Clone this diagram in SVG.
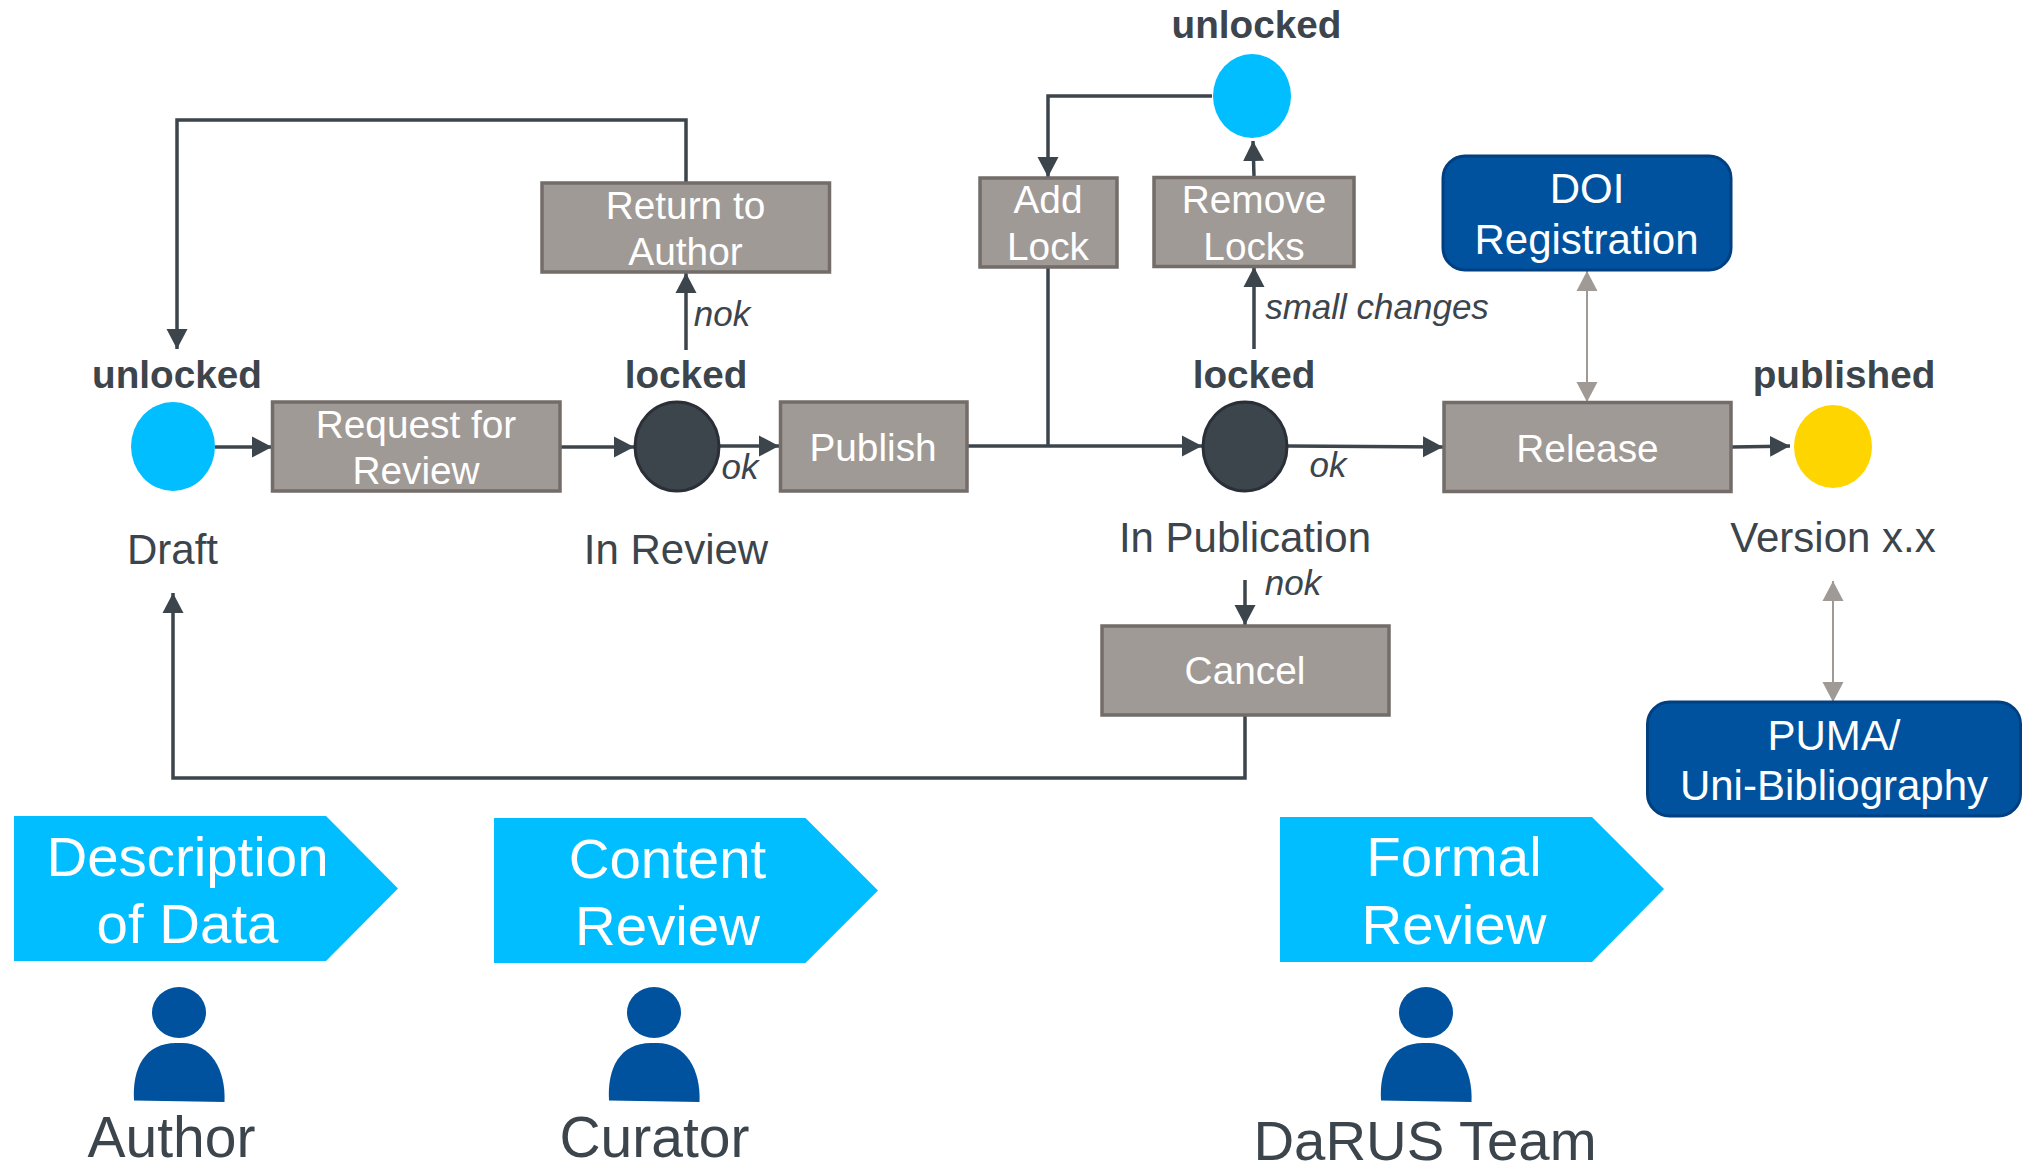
<svg xmlns="http://www.w3.org/2000/svg" width="2028" height="1164" viewBox="0 0 2028 1164">
<style>
text{font-family:"Liberation Sans",Arial,sans-serif;text-anchor:middle}
.box{fill:#9f9a96;stroke:#736c69;stroke-width:3.5}
.ext{fill:#00529e;stroke:#003f80;stroke-width:3}
.pent{fill:#00beff}
.w{fill:#fff;font-size:38.8px}
.wb{fill:#fff;font-size:42px}
.wl{fill:#fff;font-size:56.4px}
.st{fill:#3c444c;font-size:38.7px;font-weight:700}
.lb{fill:#3c444c;font-size:42px}
.it{fill:#3c444c;font-size:35px;font-style:italic}
.who{fill:#3c444c;font-size:57px}
.c{fill:none;stroke:#3c444c;stroke-width:3.5}
.g{fill:none;stroke:#a09a96;stroke-width:2}
.p{fill:#00529e}
</style>
<defs>
<marker id="a" markerUnits="userSpaceOnUse" markerWidth="21" markerHeight="22" refX="20" refY="11" orient="auto"><path d="M0 0.5L20 11L0 21.5Z" fill="#3c444c"/></marker>
<marker id="g" markerUnits="userSpaceOnUse" markerWidth="21" markerHeight="22" refX="20" refY="11" orient="auto-start-reverse"><path d="M0 0.5L20 11L0 21.5Z" fill="#a09a96"/></marker>
<path id="body" d="M-45 1100.5C-47 1068-34 1043-3 1043L3 1043C32 1043 47 1070 45.500 1102Z"/>
</defs>
<g id="connectors">
<path class="c" marker-end="url(#a)" d="M686 182V120H177V349"/>
<path class="c" marker-end="url(#a)" d="M686 350V273"/>
<path class="c" marker-end="url(#a)" d="M215 447H272"/>
<path class="c" marker-end="url(#a)" d="M561 447H634"/>
<path class="c" marker-end="url(#a)" d="M720 446H779"/>
<path class="c" marker-end="url(#a)" d="M967 446H1202"/>
<path class="c" d="M1048 267V446"/>
<path class="c" marker-end="url(#a)" d="M1212 96H1048V177"/>
<path class="c" marker-end="url(#a)" d="M1254 177L1253 141"/>
<path class="c" marker-end="url(#a)" d="M1254 349V267"/>
<path class="c" marker-end="url(#a)" d="M1288 446L1443 447"/>
<path class="c" marker-end="url(#a)" d="M1732 447L1790 446"/>
<path class="c" marker-end="url(#a)" d="M1245 580V625"/>
<path class="c" marker-end="url(#a)" d="M1245 716V778H173V593"/>
<path class="g" marker-start="url(#g)" marker-end="url(#g)" d="M1587 271V402"/>
<path class="g" marker-start="url(#g)" marker-end="url(#g)" d="M1833 581V702"/>
</g>
<g id="state-draft"><text class="st" x="177" y="388">unlocked</text><ellipse cx="173" cy="446.500" rx="42" ry="44.500" fill="#00beff"/><text class="lb" x="172.500" y="564">Draft</text></g>
<g id="request"><rect class="box" x="272.500" y="402" width="287.500" height="89"/><text class="w" x="416" y="438">Request for</text><text class="w" x="416" y="484">Review</text></g>
<g id="state-review"><text class="st" x="686" y="388">locked</text><ellipse cx="677" cy="446.500" rx="42" ry="44.500" fill="#3c444c" stroke="#2a2f38" stroke-width="3"/><text class="lb" x="676" y="564">In Review</text></g>
<g id="return"><rect class="box" x="542" y="183" width="287.500" height="89"/><text class="w" x="685.500" y="219">Return to</text><text class="w" x="685.500" y="265">Author</text></g>
<g id="publish"><rect class="box" x="780.500" y="402" width="186.500" height="89"/><text class="w" x="873" y="461">Publish</text></g>
<g id="add-lock"><rect class="box" x="980" y="178" width="137" height="89"/><text class="w" x="1048" y="213">Add</text><text class="w" x="1048" y="260">Lock</text></g>
<g id="remove-locks"><rect class="box" x="1154" y="177.500" width="200" height="89"/><text class="w" x="1254" y="213">Remove</text><text class="w" x="1254" y="260">Locks</text></g>
<g id="state-unlocked"><text class="st" x="1256.500" y="37.500">unlocked</text><ellipse cx="1252" cy="96" rx="39" ry="42" fill="#00beff"/></g>
<g id="state-publication"><text class="st" x="1254" y="388">locked</text><ellipse cx="1245" cy="446.500" rx="42" ry="44.500" fill="#3c444c" stroke="#2a2f38" stroke-width="3"/><text class="lb" x="1245" y="552">In Publication</text></g>
<g id="release"><rect class="box" x="1444" y="402.500" width="287" height="89"/><text class="w" x="1587.500" y="462">Release</text></g>
<g id="state-published"><text class="st" x="1844" y="388">published</text><ellipse cx="1833" cy="446.500" rx="39" ry="41.500" fill="#ffd500"/><text class="lb" x="1833" y="552">Version x.x</text></g>
<g id="cancel"><rect class="box" x="1102" y="626" width="287" height="89"/><text class="w" x="1245" y="684">Cancel</text></g>
<g id="doi"><rect class="ext" x="1443" y="156" width="288" height="114" rx="22"/><text class="wb" x="1587" y="203">DOI</text><text class="wb" x="1586.500" y="254">Registration</text></g>
<g id="puma"><rect class="ext" x="1647.500" y="702" width="373" height="114" rx="22"/><text class="wb" x="1834" y="750">PUMA/</text><text class="wb" x="1834" y="800">Uni-Bibliography</text></g>
<g id="edge-labels">
<text class="it" x="722" y="325.500">nok</text>
<text class="it" x="740" y="479">ok</text>
<text class="it" x="1377" y="319">small changes</text>
<text class="it" x="1328" y="477">ok</text>
<text class="it" x="1293" y="595">nok</text>
</g>
<g id="phase-description"><path class="pent" d="M14 816H326L398 888.500L326 961H14Z"/><text class="wl" x="187.500" y="875.500">Description</text><text class="wl" x="187.500" y="943">of Data</text></g>
<g id="phase-content"><path class="pent" d="M494 818H805.500L878 890.500L805.500 963H494Z"/><text class="wl" x="667.500" y="878">Content</text><text class="wl" x="667.500" y="945">Review</text></g>
<g id="phase-formal"><path class="pent" d="M1280 817H1592L1664 889L1592 962H1280Z"/><text class="wl" x="1454" y="876">Formal</text><text class="wl" x="1454" y="944">Review</text></g>
<g id="role-author"><ellipse class="p" cx="179" cy="1012.500" rx="27" ry="25.500"/><use class="p" href="#body" x="179"/><text class="who" x="171.500" y="1157">Author</text></g>
<g id="role-curator"><ellipse class="p" cx="654" cy="1012.500" rx="27" ry="25.500"/><use class="p" href="#body" x="654"/><text class="who" x="654.500" y="1157">Curator</text></g>
<g id="role-team"><ellipse class="p" cx="1426" cy="1012.500" rx="27" ry="25.500"/><use class="p" href="#body" x="1426"/><text class="who" x="1425" y="1160" style="font-size:56.300px">DaRUS Team</text></g>
</svg>
